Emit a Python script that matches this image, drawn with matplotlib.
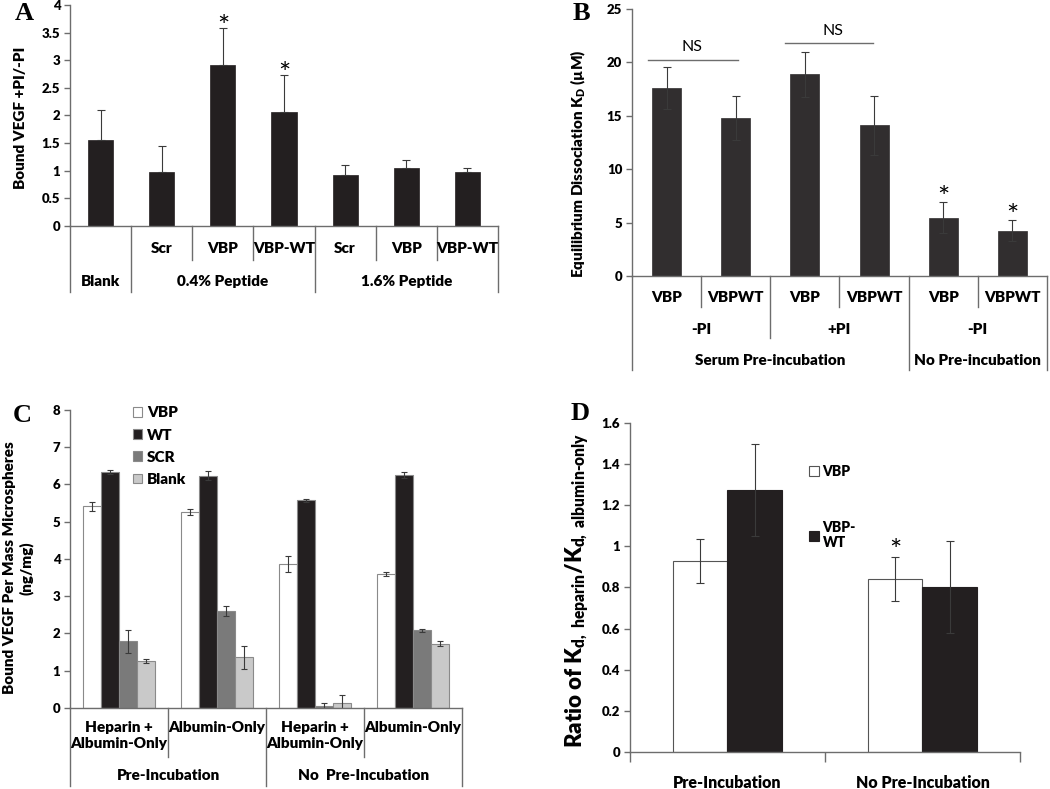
# -*- coding: utf8
'''
Four panel figure: bound VEGF and equilibrium dissociation constants
for VBP / VBP-WT coated microspheres.
'''
import matplotlib
matplotlib.use('Agg')
from matplotlib import pyplot as plt

# Panel A
a_labels = ['', 'Scr', 'VBP', 'VBP-WT', 'Scr', 'VBP', 'VBP-WT']
a_groups = ['Blank', '0.4% Peptide', '1.6% Peptide']
a_vals = [1.55, 0.97, 2.91, 2.07, 0.92, 1.05, 0.98]
a_err = [0.54, 0.47, 0.67, 0.66, 0.19, 0.14, 0.07]
a_stars = [2, 3]

# Panel B
b_labels = ['VBP', 'VBPWT', 'VBP', 'VBPWT', 'VBP', 'VBPWT']
b_pi = ['-PI', '+PI', '-PI']
b_groups = ['Serum Pre-incubation', 'No Pre-incubation']
b_vals = [17.6, 14.8, 18.9, 14.1, 5.45, 4.25]
b_err = [1.95, 2.1, 2.1, 2.8, 1.45, 1.0]
b_stars = [4, 5]

# Panel C
c_conditions = ['Heparin +\nAlbumin-Only', 'Albumin-Only',
                'Heparin +\nAlbumin-Only', 'Albumin-Only']
c_groups = ['Pre-Incubation', 'No  Pre-Incubation']
c_series = ['VBP', 'WT', 'SCR', 'Blank']
c_vbp = [5.41, 5.27, 3.86, 3.60]
c_vbp_err = [0.12, 0.08, 0.22, 0.06]
c_wt = [6.34, 6.23, 5.58, 6.26]
c_wt_err = [0.05, 0.12, 0.04, 0.08]
c_scr = [1.79, 2.60, 0.04, 2.08]
c_scr_err = [0.31, 0.13, 0.09, 0.05]
c_blank = [1.27, 1.36, 0.12, 1.73]
c_blank_err = [0.05, 0.31, 0.23, 0.06]

# Panel D
d_groups = ['Pre-Incubation', 'No Pre-Incubation']
d_series = ['VBP', 'VBP-\nWT']
d_vbp = [0.928, 0.840]
d_vbp_err = [0.107, 0.106]
d_wt = [1.275, 0.803]
d_wt_err = [0.224, 0.224]

BLACK = '#231f20'
AXCOL = '#6d6d6d'
ERRCOL = '#3a3a3a'
WEIGHT = 'heavy'

plt.rcParams['font.family'] = ['Lato', 'DejaVu Sans']
plt.rcParams['font.weight'] = WEIGHT
plt.rcParams['mathtext.fontset'] = 'custom'
plt.rcParams['mathtext.rm'] = 'Lato:heavy'
plt.rcParams['mathtext.it'] = 'Lato:heavy'
plt.rcParams['mathtext.bf'] = 'Lato:heavy'


def style_axes(ax, xticks=False):
    for side in ['top', 'right']:
        ax.spines[side].set_visible(False)
    for side in ['left', 'bottom']:
        ax.spines[side].set_color(AXCOL)
        ax.spines[side].set_linewidth(1.0)
    ax.tick_params(axis='y', direction='out', length=4, width=1,
                   color=AXCOL, labelsize=9.5, pad=3)
    if not xticks:
        ax.set_xticks([])


def vline(ax, x, depth):
    ax.plot([x, x], [0, depth], color=AXCOL, lw=1,
            transform=ax.get_xaxis_transform(), clip_on=False)


def label(ax, x, y, s, size=11, va='center'):
    ax.text(x, y, s, transform=ax.get_xaxis_transform(), ha='center',
            va=va, fontsize=size, fontweight=WEIGHT, linespacing=1.25)


def star(ax, x, y):
    ax.text(x, y, '*', ha='center', va='center', fontsize=21,
            fontweight='normal')


def letter(fig, x, y, s):
    fig.text(x, y, s, family='Liberation Serif', fontsize=19,
             fontweight='bold', va='top', ha='left')


def main():
    fig = plt.figure(figsize=(10.5, 7.89), dpi=100)

    # ---------------- A
    ax = fig.add_axes([0.0667, 0.7136, 0.4076, 0.2801])
    x = list(range(len(a_vals)))
    ax.bar(x, a_vals, width=0.41, color=BLACK, edgecolor=BLACK, lw=0.5,
           yerr=[[0] * len(a_err), a_err], ecolor=ERRCOL,
           error_kw=dict(elinewidth=0.8, capsize=3, capthick=0.8))
    ax.set_xlim(-0.5, len(a_vals) - 0.5)
    ax.set_ylim(0, 4)
    ax.set_yticks([0, 0.5, 1, 1.5, 2, 2.5, 3, 3.5, 4])
    ax.set_yticklabels(['0', '0.5', '1', '1.5', '2', '2.5', '3', '3.5', '4'])
    style_axes(ax)
    for i in a_stars:
        star(ax, i, a_vals[i] + a_err[i] + 0.01)
    for b in [-0.5, 0.5, 3.5, 6.5]:
        vline(ax, b, -0.30)
    for b in [1.5, 2.5, 4.5, 5.5]:
        vline(ax, b, -0.154)
    for i, s in enumerate(a_labels):
        label(ax, i, -0.10, s)
    for xc, s in zip([0, 2, 5], a_groups):
        label(ax, xc, -0.253, s)
    ax.set_ylabel('Bound VEGF +PI/-PI', fontsize=11, fontweight=WEIGHT)
    ax.yaxis.set_label_coords(-0.10, 0.49)
    letter(fig, 0.014, 0.998, 'A')

    # ---------------- B
    ax = fig.add_axes([0.6019, 0.6502, 0.3952, 0.3384])
    x = list(range(len(b_vals)))
    ax.bar(x, b_vals, width=0.42, color='#312e2f', edgecolor='#312e2f',
           lw=0.5, yerr=b_err, ecolor=ERRCOL,
           error_kw=dict(elinewidth=0.8, capsize=3, capthick=0.8))
    ax.set_xlim(-0.5, len(b_vals) - 0.5)
    ax.set_ylim(0, 25)
    ax.set_yticks([0, 5, 10, 15, 20, 25])
    style_axes(ax)
    for i in b_stars:
        star(ax, i, b_vals[i] + b_err[i] + 0.3)
    ax.plot([-0.27, 1.03], [20.2, 20.2], color=AXCOL, lw=1)
    ax.text(0.37, 21.4, 'NS', ha='center', va='center', fontsize=11.5,
            fontweight='normal')
    ax.plot([1.71, 2.99], [21.8, 21.8], color=AXCOL, lw=1)
    ax.text(2.40, 22.9, 'NS', ha='center', va='center', fontsize=11.5,
            fontweight='normal')
    for b in [-0.5, 3.5, 5.5]:
        vline(ax, b, -0.352)
    vline(ax, 1.5, -0.232)
    for b in [0.5, 2.5, 4.5]:
        vline(ax, b, -0.116)
    for i, s in enumerate(b_labels):
        label(ax, i, -0.082, s)
    for xc, s in zip([0.5, 2.5, 4.5], b_pi):
        label(ax, xc, -0.202, s)
    for xc, s in zip([1.5, 4.5], b_groups):
        label(ax, xc, -0.315, s)
    ax.set_ylabel('Equilibrium Dissociation K$_D$ (µM)', fontsize=11,
                  fontweight=WEIGHT)
    ax.yaxis.set_label_coords(-0.105, 0.42)
    letter(fig, 0.545, 0.998, 'B')

    # ---------------- C
    ax = fig.add_axes([0.0667, 0.1027, 0.3733, 0.3777])
    w = 0.185
    series = [(c_vbp, c_vbp_err, 'white'), (c_wt, c_wt_err, BLACK),
              (c_scr, c_scr_err, '#7a7a7a'), (c_blank, c_blank_err, '#c9c9c9')]
    handles = []
    for k, (vals, err, col) in enumerate(series):
        pos = [i + (k - 1.5) * w for i in range(len(vals))]
        h = ax.bar(pos, vals, width=w, color=col, edgecolor='#8a8a8a',
                   lw=0.8, yerr=err, ecolor=ERRCOL,
                   error_kw=dict(elinewidth=0.8, capsize=2.5, capthick=0.8))
        handles.append(h)
    ax.set_xlim(-0.5, len(c_conditions) - 0.5)
    ax.set_ylim(0, 8)
    ax.set_yticks(range(9))
    style_axes(ax)
    for b in [-0.5, 1.5, 3.5]:
        vline(ax, b, -0.262)
    for b in [0.5, 2.5]:
        vline(ax, b, -0.164)
    for i, s in enumerate(c_conditions):
        label(ax, i, -0.044, s, va='top')
    for xc, s in zip([0.5, 2.5], c_groups):
        label(ax, xc, -0.228, s)
    ax.legend(handles, c_series, loc='upper left', frameon=False,
              bbox_to_anchor=(0.16, 1.012), borderpad=0, borderaxespad=0,
              handlelength=0.6, handleheight=0.6, handletextpad=0.35,
              labelspacing=0.6, prop=dict(size=11, weight=WEIGHT))
    ax.set_ylabel('Bound VEGF Per Mass Microspheres\n(ng/mg)', fontsize=11,
                  fontweight=WEIGHT, linespacing=1.3)
    ax.yaxis.set_label_coords(-0.092, 0.47)
    letter(fig, 0.012, 0.488, 'C')

    # ---------------- D
    ax = fig.add_axes([0.6, 0.0469, 0.3714, 0.417])
    w = 0.28
    h1 = ax.bar([i - w / 2 for i in range(2)], d_vbp, width=w, color='white',
                edgecolor='#555555', lw=0.8, yerr=d_vbp_err, ecolor=ERRCOL,
                error_kw=dict(elinewidth=0.8, capsize=3, capthick=0.8))
    h2 = ax.bar([i + w / 2 for i in range(2)], d_wt, width=w, color=BLACK,
                edgecolor=BLACK, lw=0.8, yerr=d_wt_err, ecolor=ERRCOL,
                error_kw=dict(elinewidth=0.8, capsize=3, capthick=0.8))
    ax.set_xlim(-0.5, 1.5)
    ax.set_ylim(0, 1.6)
    ax.set_yticks([0, 0.2, 0.4, 0.6, 0.8, 1, 1.2, 1.4, 1.6])
    ax.set_yticklabels(['0', '0.2', '0.4', '0.6', '0.8', '1', '1.2', '1.4',
                        '1.6'])
    style_axes(ax, xticks=True)
    ax.set_xticks([-0.5, 0.5, 1.5])
    ax.set_xticklabels([])
    ax.tick_params(axis='x', direction='out', length=7, width=1, color=AXCOL)
    for i, s in enumerate(d_groups):
        label(ax, i, -0.094, s, size=11.5)
    star(ax, 1 - w / 2, d_vbp[1] + d_vbp_err[1] + 0.027)
    ax.legend([h1, h2], d_series, loc='upper left', frameon=False,
              bbox_to_anchor=(0.458, 0.872), borderpad=0, borderaxespad=0,
              handlelength=0.75, handleheight=0.75, handletextpad=0.25,
              labelspacing=3.1, prop=dict(size=10, weight=WEIGHT))
    ax.set_ylabel('Ratio of K$_{d,\\ heparin}$/K$_{d,\\ albumin\\text{-}only}$',
                  fontsize=16, fontweight=WEIGHT)
    ax.yaxis.set_label_coords(-0.10, 0.49)
    letter(fig, 0.543, 0.49, 'D')

    fig.savefig('out.png', dpi=100)


if __name__ == '__main__':
    main()
